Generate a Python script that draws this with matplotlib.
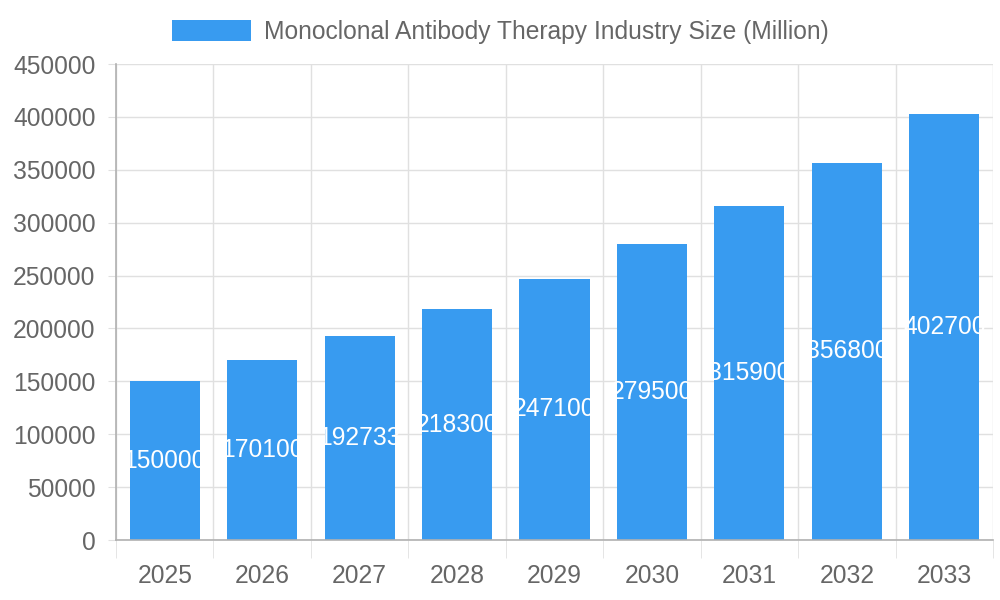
import matplotlib
matplotlib.use("Agg")
import matplotlib.pyplot as plt
from matplotlib.ticker import FixedLocator

years = ["2025", "2026", "2027", "2028", "2029", "2030", "2031", "2032", "2033"]
values = [150000, 170100, 192733, 218300, 247100, 279500, 315900, 356800, 402700]
series_name = "Monoclonal Antibody Therapy Industry Size (Million)"
y_ticks = [0, 50000, 100000, 150000, 200000, 250000, 300000, 350000, 400000, 450000]

BAR = "#389BF0"
TXT = "#666666"
GRID = "#e0e0e0"
AXIS = "#b0b0b0"
FS = 17.7

plt.rcParams["font.family"] = ["Liberation Sans", "DejaVu Sans"]

fig = plt.figure(figsize=(10, 6), dpi=100)
ax = fig.add_axes([0.116, 0.1, 0.877, 1 - 0.1 - 64 / 600])

x = list(range(len(years)))
bars = ax.bar(x, values, width=0.72, color=BAR, zorder=2, label=series_name)

for b, v in zip(bars, values):
    t = ax.text(b.get_x() + b.get_width() / 2, v / 2, str(v), ha="center", va="center",
                color="white", fontsize=FS, zorder=3)
    t.set_clip_path(b)

ax.set_xlim(-0.5, len(years) - 0.5)
ax.set_ylim(0, 450000)
ax.set_yticks(y_ticks)
ax.set_yticklabels([str(v) for v in y_ticks])
ax.set_xticks(x)
ax.set_xticklabels(years)
ax.xaxis.set_minor_locator(FixedLocator([i - 0.5 for i in range(len(years) + 1)]))

ax.grid(axis="y", which="major", color=GRID, linewidth=1, zorder=0)
ax.grid(axis="x", which="minor", color=GRID, linewidth=1, zorder=0)
ax.set_axisbelow(True)

ax.tick_params(axis="y", which="major", length=5.8, color=GRID, labelcolor=TXT, labelsize=FS, pad=9)
ax.tick_params(axis="x", which="major", length=0, labelcolor=TXT, labelsize=FS, pad=17)
ax.tick_params(axis="x", which="minor", length=13, color=GRID)

for s in ["top", "right"]:
    ax.spines[s].set_visible(False)
for s in ["left", "bottom"]:
    ax.spines[s].set_color(AXIS)
    ax.spines[s].set_linewidth(1.2)

fig.legend(handles=[bars], labels=[series_name], loc="center", bbox_to_anchor=(0.5, 1 - 32 / 600),
           frameon=False, fontsize=FS, labelcolor=TXT, handlelength=3.25, handleheight=0.94,
           handletextpad=0.5, borderaxespad=0, borderpad=0)

fig.savefig("out.png", dpi=100)
